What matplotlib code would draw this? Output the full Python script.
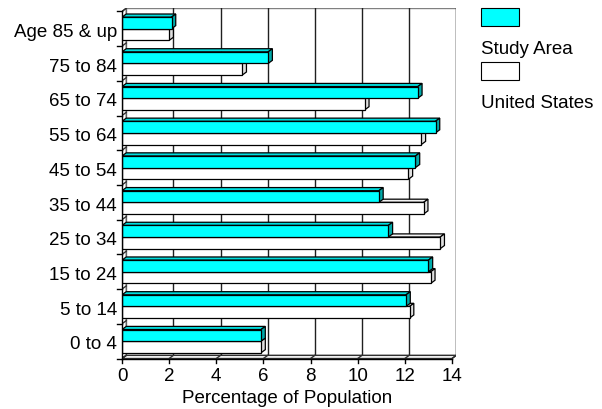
import matplotlib.pyplot as plt
from matplotlib.patches import Polygon, Rectangle

# data
categories = ["0 to 4", "5 to 14", "15 to 24", "25 to 34", "35 to 44",
              "45 to 54", "55 to 64", "65 to 74", "75 to 84", "Age 85 & up"]
study_area = [5.9, 12.05, 13.0, 11.3, 10.9, 12.45, 13.3, 12.55, 6.2, 2.1]
united_states = [5.9, 12.2, 13.1, 13.5, 12.8, 12.15, 12.7, 10.3, 5.1, 2.0]
xticks = [0, 2, 4, 6, 8, 10, 12, 14]
series_names = ["Study Area", "United States"]
colors = ["#00FFFF", "#FFFFFF"]
top_colors = ["#00DDDD", "#F2F2F2"]
side_colors = ["#00AAAA", "#E0E0E0"]

plt.rcParams['font.family'] = ['Liberation Sans', 'DejaVu Sans']

W, H = 602, 409
fig = plt.figure(figsize=(W / 100, H / 100), dpi=100)

# 3D offset in data units
dx, dy = 0.18, 0.09
xmax = 14
n = len(categories)
px_x = 330 / 14.0
px_y = 34.71
left_px, bottom_px = 122, 358.5
ax_w = (xmax + dx) * px_x
ax_h = (n + dy) * px_y
ax = fig.add_axes([left_px / W, (H - bottom_px) / H, ax_w / W, ax_h / H])
ax.set_xlim(0, xmax + dx)
ax.set_ylim(-0.5, n - 0.5 + dy)
ax.axis("off")

y0, y1 = -0.5, n - 0.5

# back wall
ax.add_patch(Rectangle((dx, y0 + dy), xmax, n, facecolor="white",
                       edgecolor="#808080", lw=1, zorder=1))
for t in xticks[1:]:
    ax.plot([t + dx, t + dx], [y0 + dy, y1 + dy], color="#202020", lw=1, zorder=1.5)
# left wall and floor
ax.add_patch(Polygon([(0, y0), (dx, y0 + dy), (dx, y1 + dy), (0, y1)],
                     closed=True, facecolor="white", edgecolor="#606060", lw=1, zorder=1.6))
ax.add_patch(Polygon([(0, y0), (xmax, y0), (xmax + dx, y0 + dy), (dx, y0 + dy)],
                     closed=True, facecolor="white", edgecolor="#303030", lw=1, zorder=1.6))
for t in xticks:
    ax.plot([t, t + dx], [y0, y0 + dy], color="#303030", lw=1, zorder=1.7)
for b in range(n + 1):
    yb = b - 0.5
    ax.plot([0, dx], [yb, yb + dy], color="#303030", lw=1, zorder=1.7)

# bars
h = 0.335
def bar3d(x, ybase, color, top, side, z):
    ax.add_patch(Polygon([(0, ybase + h), (x, ybase + h), (x + dx, ybase + h + dy), (dx, ybase + h + dy)],
                         closed=True, facecolor=top, edgecolor="black", lw=0.9, zorder=z))
    ax.add_patch(Polygon([(x, ybase), (x, ybase + h), (x + dx, ybase + h + dy), (x + dx, ybase + dy)],
                         closed=True, facecolor=side, edgecolor="black", lw=0.9, zorder=z))
    ax.add_patch(Rectangle((0, ybase), x, h, facecolor=color, edgecolor="black", lw=0.9, zorder=z))

for i in range(n):
    bar3d(united_states[i], i - h, colors[1], top_colors[1], side_colors[1], 3)
    bar3d(study_area[i], i, colors[0], top_colors[0], side_colors[0], 4)

# front axes
ax.plot([0, xmax], [y0, y0], color="black", lw=1, zorder=5, clip_on=False)
ax.plot([0, 0], [y0, y1], color="black", lw=1, zorder=5, clip_on=False)
for t in xticks:
    ax.plot([t, t], [y0, y0 - 0.13], color="black", lw=1, clip_on=False)
    ax.text(t, y0 - 0.65, str(t), ha="center", va="baseline", fontsize=13.5)
for b in range(n + 1):
    ax.plot([-0.2, 0], [b - 0.5, b - 0.5], color="black", lw=1, clip_on=False)
for i, c in enumerate(categories):
    ax.text(-0.22, i - 0.11, c, ha="right", va="center", fontsize=13.5)
ax.text(xmax / 2, y0 - 1.28, "Percentage of Population", ha="center", va="baseline", fontsize=13.5)

# legend
for k, name in enumerate(series_names):
    ytop = 8.3 + k * 54
    fig.patches.append(Rectangle((481 / W, (H - ytop - 17.5) / H), 37.5 / W, 17.5 / H,
                                 facecolor=colors[k], edgecolor="black", lw=0.8,
                                 transform=fig.transFigure, figure=fig))
    fig.text(481 / W, (H - (ytop + 41)) / H, name, ha="left", va="center", fontsize=13.5)

fig.savefig("out.png", dpi=100)
